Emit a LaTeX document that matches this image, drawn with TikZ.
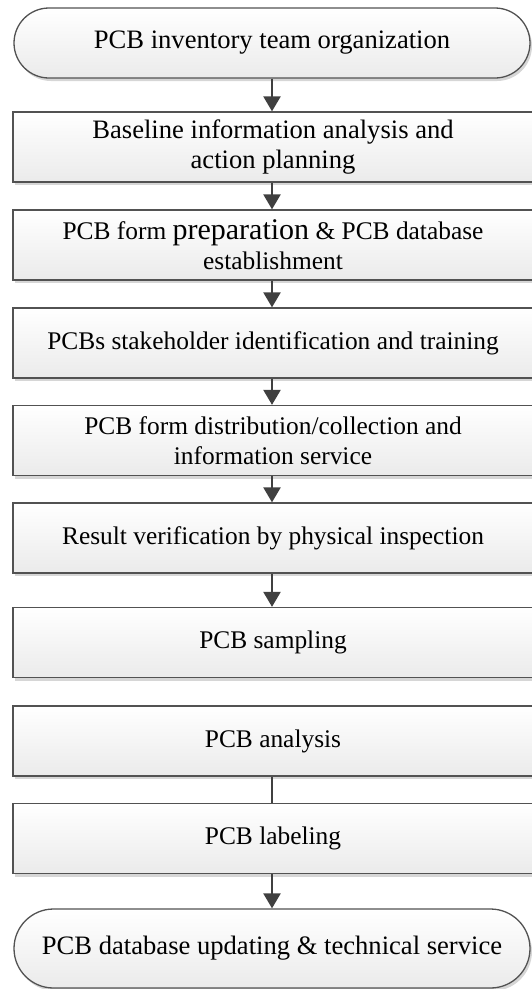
\documentclass[tikz,border=0pt]{standalone}
\usepackage{fontspec}
\setmainfont{Liberation Serif}
\usepackage{tikz}
\usetikzlibrary{arrows.meta,shapes.misc,shadows}
\tikzset{
  stepbox/.style={rectangle, draw=black!68, line width=1.3pt, top color=white, bottom color=black!8,
    drop shadow={shadow xshift=2pt, shadow yshift=-3pt, fill=black!16, opacity=1},
    minimum width=520pt, minimum height=70pt, inner sep=0pt, align=center, text=black},
  termbox/.style={stepbox, rounded rectangle, minimum width=516pt, font=\largetext},
  flowarrow/.style={draw=black!75, line width=2.4pt, -{Triangle[width=17pt,length=15pt]}},
}
\def\stepnode{\node[stepbox]}
\def\termnode{\node[termbox]}
\def\drawflow{\draw[flowarrow]}
\def\largetext{\fontsize{26.6}{30.5}\selectfont}
\def\bigword#1{{\fontsize{30}{30}\selectfont #1}}

\begin{document}
\begin{tikzpicture}[x=1pt,y=-1pt,font=\fontsize{25.4}{30}\selectfont]
\useasboundingbox (0,0) rectangle (531,989);

% -------- start / end terminals ---------
\termnode (team) at (272,43) {PCB inventory team organization};
\termnode[minimum height=79pt] (update) at (272,948.5) {PCB database updating \& technical service};

% -------- process steps ---------
\stepnode[font=\largetext] (baseline) at (273,147) {Baseline information analysis and\\action planning};
\stepnode (form) at (273,245) {PCB form \bigword{preparation} \& PCB database\\establishment};
\stepnode (stake) at (273,343) {PCBs stakeholder identification and training};
\stepnode (distr) at (273,440.5) {PCB form distribution/collection and\\information service};
\stepnode (verify) at (273,538) {Result verification by physical inspection};
\stepnode (sample) at (273,642.5) {PCB sampling};
\stepnode (analysis) at (273,741) {PCB analysis};
\stepnode (label) at (273,838.5) {PCB labeling};

% -------- connectors ---------
\drawflow (team.south -| 272,0) -- (baseline.north -| 272,0);
\drawflow (baseline.south -| 272,0) -- (form.north -| 272,0);
\drawflow (form.south -| 272,0) -- (stake.north -| 272,0);
\drawflow (stake.south -| 272,0) -- (distr.north -| 272,0);
\drawflow (distr.south -| 272,0) -- (verify.north -| 272,0);
\drawflow (verify.south -| 272,0) -- (sample.north -| 272,0);
\draw[draw=black!75, line width=2.2pt] (analysis.south -| 272,0) -- (label.north -| 272,0);
\drawflow (label.south -| 272,0) -- (update.north -| 272,0);
\end{tikzpicture}
\end{document}
